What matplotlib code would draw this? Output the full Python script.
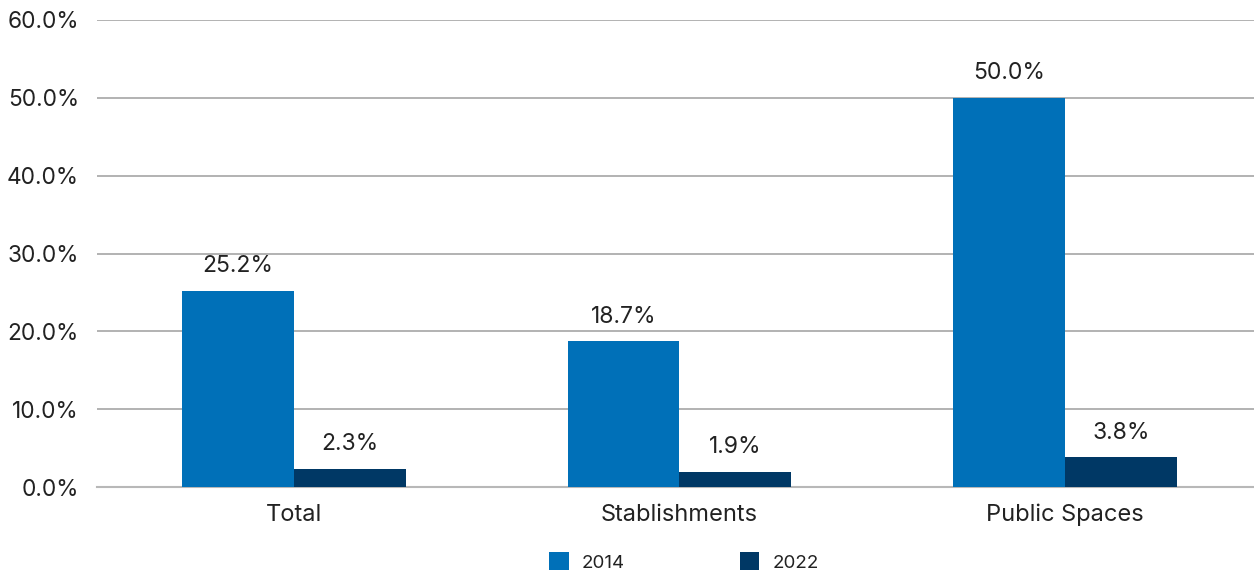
import numpy as np
import matplotlib.pyplot as plt

plt.rcParams['font.family'] = ['Inter', 'DejaVu Sans']

categories = ["Total", "Stablishments", "Public Spaces"]
series_names = ["2014", "2022"]
vals_2014 = [25.2, 18.7, 50.0]
vals_2022 = [2.3, 1.9, 3.8]

colors = ["#0070B8", "#003865"]
text_color = "#222222"

fig = plt.figure(figsize=(12.54, 5.72), dpi=100)
ax = fig.add_axes([97 / 1254, 1 - 487 / 572, 1157 / 1254, 467 / 572])

x = np.arange(len(categories))
w = 0.29

bars1 = ax.bar(x - w / 2, vals_2014, w, color=colors[0], label=series_names[0], zorder=3)
bars2 = ax.bar(x + w / 2, vals_2022, w, color=colors[1], label=series_names[1], zorder=3)

for bars, vals in [(bars1, vals_2014), (bars2, vals_2022)]:
    for b, v in zip(bars, vals):
        ax.annotate(f"{v:.1f}%", (b.get_x() + b.get_width() / 2, v),
                    xytext=(0, 10), textcoords="offset points",
                    ha="center", va="bottom", fontsize=16.5, color=text_color)

ax.set_xlim(-0.51, 2.49)
ax.set_ylim(0, 60)
ax.set_yticks(np.arange(0, 61, 10))
ax.set_yticklabels([f"{t:.1f}%" for t in np.arange(0, 61, 10)])
ax.set_xticks(x)
ax.set_xticklabels(categories)
ax.tick_params(axis="both", length=0, colors=text_color)
ax.tick_params(axis="y", pad=13, labelsize=16.3)
ax.tick_params(axis="x", pad=12, labelsize=17)

ax.grid(axis="y", color="#a6a6a6", linewidth=1.2, zorder=0)
for s in ["top", "right", "left"]:
    ax.spines[s].set_visible(False)
ax.spines["bottom"].set_color("#b8b8b8")
ax.spines["bottom"].set_linewidth(1.5)

fig.legend(loc="center", bbox_to_anchor=(684 / 1254, 1 - 562 / 572), ncol=2,
           frameon=False, fontsize=13.5, handlelength=1.05, handleheight=1.05,
           columnspacing=6.1, handletextpad=0.7, labelcolor=text_color)

fig.savefig("out.png", dpi=100)
